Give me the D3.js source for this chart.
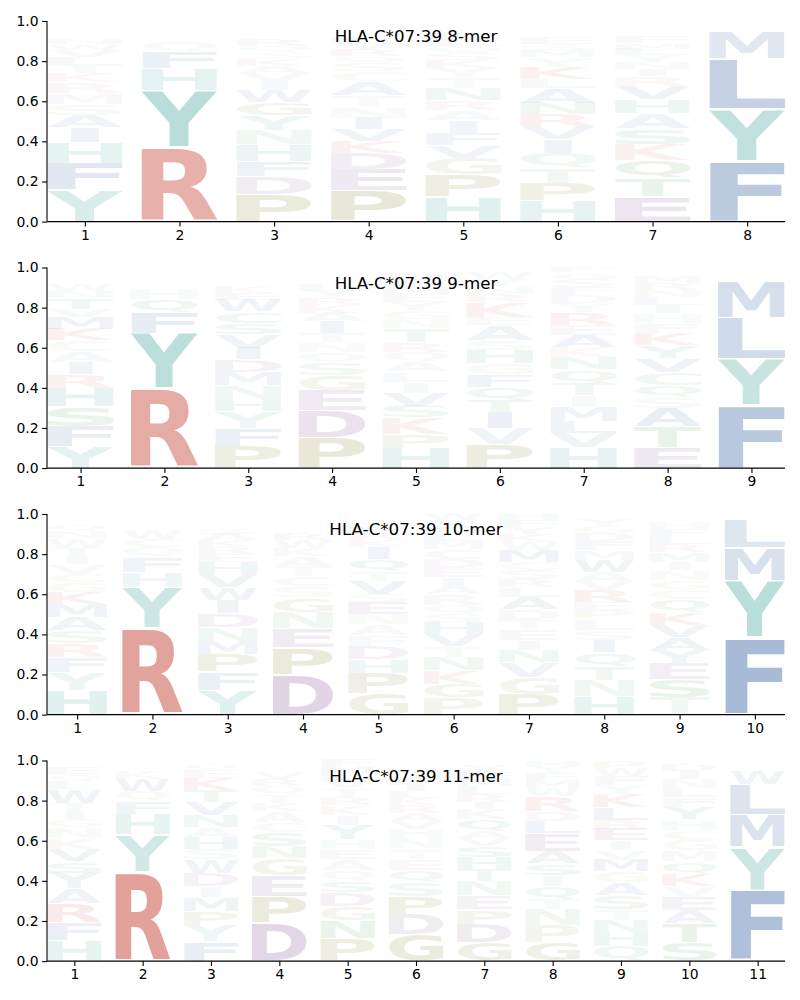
<!DOCTYPE html>
<html><head><meta charset="utf-8">
<script src="https://cdn.jsdelivr.net/npm/d3@7"></script>
<style>body{margin:0;background:#fff}</style>
</head><body>
<svg id="chart" width="800" height="1000"></svg>
<script>
// ---------- data ----------
const titles = ["HLA-C*07:39 8-mer", "HLA-C*07:39 9-mer", "HLA-C*07:39 10-mer", "HLA-C*07:39 11-mer"];
const yTicks = [0, 0.2, 0.4, 0.6, 0.8, 1.0];

// each column: [letter, probability] listed from bottom to top
const logo8mer = [
  [["Y",.158],["F",.135],["H",.105],["I",.075],["A",.06],["S",.055],["M",.055],["R",.055],["K",.05],["T",.04],["L",.04],["V",.035],["W",.03],["N",.03],["Q",.025],["E",.02],["D",.015],["G",.015],["P",.01]],
  [["R",.368],["Y",.287],["H",.108],["F",.083],["Q",.05],["C",.025],["K",.02],["M",.015],["S",.015],["N",.01],["W",.01],["L",.01]],
  [["P",.133],["D",.088],["F",.075],["H",.083],["N",.07],["Y",.075],["G",.063],["W",.06],["I",.045],["V",.04],["A",.035],["K",.035],["S",.03],["Q",.03],["R",.03],["E",.025],["T",.025],["L",.025],["C",.02]],
  [["P",.153],["E",.105],["D",.083],["K",.058],["V",.058],["I",.058],["N",.056],["T",.055],["A",.07],["C",.05],["S",.04],["Q",.035],["R",.03],["Y",.03],["L",.03],["F",.025],["M",.02],["H",.02],["W",.02]],
  [["H",.124],["P",.108],["G",.083],["V",.063],["F",.063],["I",.063],["A",.05],["R",.05],["N",.06],["T",.055],["Y",.045],["K",.04],["S",.035],["Q",.035],["L",.03],["E",.03],["D",.025],["M",.02],["W",.02]],
  [["H",.103],["P",.09],["T",.075],["Q",.075],["I",.066],["V",.066],["R",.058],["N",.058],["A",.075],["L",.045],["K",.06],["Y",.05],["M",.035],["S",.03],["E",.03],["D",.025],["G",.02],["F",.02],["W",.02]],
  [["E",.124],["T",.09],["Q",.09],["K",.08],["S",.08],["A",.075],["H",.07],["V",.066],["R",.05],["I",.035],["N",.035],["Y",.035],["L",.03],["M",.03],["F",.03],["G",.025],["D",.025],["W",.015],["C",.015]],
  [["F",.30],["Y",.257],["L",.254],["M",.133],["I",.02],["W",.015],["V",.01],["H",.01]]
];
const logo9mer = [
  [["Y",.108],["F",.10],["S",.096],["H",.093],["R",.07],["I",.058],["A",.053],["C",.055],["K",.058],["M",.058],["V",.04],["T",.058],["N",.03],["W",.03],["Q",.025],["L",.02],["E",.02],["D",.015],["G",.01]],
  [["R",.393],["Y",.274],["F",.103],["Q",.066],["H",.056],["K",.025],["M",.02],["W",.02],["N",.015],["S",.01],["L",.01]],
  [["P",.108],["F",.09],["Y",.083],["H",.061],["N",.07],["M",.066],["D",.06],["I",.058],["V",.066],["S",.058],["C",.058],["W",.058],["E",.035],["K",.03],["R",.025],["A",.025],["T",.02],["L",.015],["Q",.01]],
  [["P",.15],["D",.136],["E",.10],["G",.075],["S",.063],["Q",.05],["N",.05],["T",.046],["I",.058],["A",.045],["K",.04],["R",.035],["Y",.03],["L",.03],["F",.025],["M",.025],["H",.02],["W",.02]],
  [["H",.10],["P",.07],["K",.08],["S",.06],["V",.065],["I",.055],["L",.05],["A",.05],["Q",.05],["R",.045],["T",.07],["N",.045],["G",.045],["Y",.04],["E",.04],["M",.035],["F",.035],["D",.03],["W",.02],["C",.015]],
  [["P",.116],["V",.083],["I",.078],["T",.058],["Q",.066],["F",.063],["G",.055],["H",.066],["S",.05],["A",.075],["E",.04],["K",.075],["R",.04],["N",.035],["Y",.035],["W",.03],["D",.02],["C",.01]],
  [["H",.10],["V",.07],["L",.06],["M",.07],["I",.055],["T",.058],["Q",.066],["N",.06],["K",.05],["A",.058],["E",.05],["R",.06],["Y",.045],["D",.04],["F",.04],["S",.04],["G",.03],["P",.025]],
  [["E",.105],["T",.10],["A",.095],["S",.055],["Q",.058],["C",.066],["V",.07],["Y",.063],["K",.058],["F",.05],["H",.05],["I",.04],["L",.04],["N",.035],["R",.035],["M",.03],["D",.025],["W",.025]],
  [["F",.31],["Y",.227],["L",.207],["M",.182],["I",.02],["W",.02],["V",.015],["H",.01]]
];
const logo10mer = [
  [["H",.12],["Y",.088],["F",.075],["R",.07],["S",.063],["A",.066],["M",.066],["K",.06],["G",.05],["C",.04],["V",.05],["I",.04],["T",.04],["W",.05],["N",.035],["Q",.03],["L",.025],["E",.02],["D",.01]],
  [["R",.431],["Y",.204],["H",.075],["F",.073],["Q",.05],["C",.04],["W",.045],["K",.025],["M",.02],["N",.015],["S",.01],["L",.01]],
  [["Y",.12],["F",.09],["P",.088],["M",.066],["N",.066],["D",.07],["I",.066],["W",.06],["V",.066],["H",.058],["E",.04],["R",.035],["K",.035],["A",.03],["S",.03],["T",.025],["Q",.025],["L",.02]],
  [["D",.20],["P",.133],["E",.096],["N",.083],["G",.071],["S",.056],["C",.05],["T",.053],["A",.05],["K",.04],["W",.04],["R",.03],["M",.025],["Y",.025],["L",.02],["V",.015],["I",.015]],
  [["G",.105],["P",.10],["H",.066],["D",.066],["F",.055],["A",.055],["N",.05],["E",.058],["S",.04],["V",.066],["T",.05],["Q",.058],["I",.058],["K",.035],["R",.03],["L",.03],["M",.025],["Y",.025],["W",.02]],
  [["P",.083],["G",.07],["K",.066],["N",.066],["T",.053],["V",.063],["H",.06],["S",.04],["Q",.045],["R",.053],["A",.041],["I",.041],["E",.046],["D",.046],["C",.05],["M",.04],["L",.035],["F",.035],["Y",.035],["W",.03]],
  [["P",.10],["G",.083],["V",.075],["N",.063],["I",.05],["E",.055],["T",.045],["D",.053],["A",.058],["L",.05],["R",.041],["S",.046],["C",.041],["M",.058],["W",.04],["K",.04],["Y",.035],["F",.035],["H",.03]],
  [["H",.09],["N",.078],["T",.07],["Q",.07],["I",.06],["S",.05],["L",.056],["P",.046],["E",.038],["R",.058],["V",.045],["A",.045],["W",.06],["M",.05],["F",.045],["D",.04],["G",.035],["Y",.035],["K",.025]],
  [["T",.086],["S",.088],["E",.08],["Y",.066],["A",.063],["V",.063],["K",.063],["Q",.066],["C",.05],["G",.041],["N",.05],["I",.041],["M",.05],["R",.04],["L",.04],["F",.035],["H",.03],["D",.025],["P",.02]],
  [["F",.37],["Y",.274],["M",.161],["L",.141],["I",.01],["W",.01]]
];
const logo11mer = [
  [["H",.104],["F",.088],["R",.093],["A",.075],["Y",.078],["S",.058],["V",.06],["K",.053],["N",.055],["G",.041],["I",.041],["T",.041],["W",.066],["L",.04],["Q",.035],["E",.03],["D",.025],["P",.015]],
  [["R",.443],["Y",.187],["H",.103],["F",.063],["Q",.05],["W",.058],["K",.04],["M",.02],["N",.015],["S",.01],["L",.01]],
  [["F",.096],["Y",.08],["P",.071],["M",.07],["I",.055],["D",.066],["W",.066],["S",.055],["H",.058],["A",.05],["N",.058],["V",.066],["T",.058],["K",.06],["E",.04],["Q",.03],["G",.02]],
  [["D",.19],["P",.133],["E",.10],["G",.088],["N",.061],["S",.07],["C",.05],["A",.055],["K",.041],["T",.041],["Q",.04],["R",.035],["V",.03],["L",.025],["M",.02],["Y",.02]],
  [["P",.111],["N",.091],["G",.071],["D",.066],["S",.058],["Q",.053],["A",.055],["E",.05],["H",.05],["Y",.071],["I",.05],["K",.05],["R",.04],["T",.04],["V",.04],["L",.035],["M",.035],["F",.03]],
  [["G",.13],["D",.10],["P",.09],["S",.07],["Q",.06],["E",.055],["T",.05],["N",.05],["H",.045],["V",.04],["A",.04],["R",.04],["K",.035],["L",.035],["I",.03],["F",.03],["Y",.03],["M",.025],["W",.02],["C",.015]],
  [["G",.091],["D",.091],["P",.071],["E",.07],["N",.071],["T",.058],["H",.058],["S",.058],["V",.04],["A",.035],["Q",.058],["K",.05],["I",.033],["R",.04],["L",.04],["M",.035],["F",.035],["Y",.03],["W",.025]],
  [["G",.091],["P",.088],["N",.078],["T",.053],["Q",.063],["I",.055],["S",.058],["A",.063],["E",.09],["L",.058],["D",.05],["R",.075],["W",.04],["M",.04],["F",.035],["Y",.035],["H",.03]],
  [["Q",.075],["H",.071],["N",.058],["T",.055],["S",.07],["A",.063],["G",.055],["M",.058],["V",.05],["I",.046],["E",.058],["R",.045],["L",.063],["K",.066],["Y",.045],["F",.045],["W",.04],["P",.037]],
  [["S",.091],["T",.095],["A",.066],["E",.066],["V",.055],["K",.061],["Q",.061],["M",.055],["G",.053],["C",.05],["H",.05],["Y",.06],["F",.05],["L",.045],["N",.045],["I",.04],["D",.03],["W",.025]],
  [["F",.337],["Y",.202],["M",.154],["L",.144],["W",.066],["I",.02],["V",.015],["H",.01]]
];

// colour groups
const redLetters = ["R","K"];
const purpleLetters = ["D","E"];
const oliveLetters = ["P","G"];
const tealLetters = ["Y","H"];
const greenLetters = ["N","Q","S","T","C"];
const blueLetters = ["F","L","M","I","V","A","W"];
const groupColors = {red:"#bd2a1c", purple:"#6b2d7e", olive:"#6e6400", teal:"#0b8a7c", green:"#1f8a30", blue:"#1e5096"};

// ---------- drawing ----------
const colorOf = ch => redLetters.includes(ch) ? groupColors.red
  : purpleLetters.includes(ch) ? groupColors.purple
  : oliveLetters.includes(ch) ? groupColors.olive
  : tealLetters.includes(ch) ? groupColors.teal
  : greenLetters.includes(ch) ? groupColors.green
  : groupColors.blue;

const FONT = "DejaVu Sans";
const cv = document.createElement("canvas").getContext("2d");
cv.font = `bold 100px '${FONT}'`;
const metricsCache = {};
function metrics(ch) {
  if (!metricsCache[ch]) {
    const m = cv.measureText(ch);
    metricsCache[ch] = {left: m.actualBoundingBoxLeft, right: m.actualBoundingBoxRight,
      ascent: m.actualBoundingBoxAscent, descent: m.actualBoundingBoxDescent,
      w: m.actualBoundingBoxLeft + m.actualBoundingBoxRight,
      h: m.actualBoundingBoxAscent + m.actualBoundingBoxDescent};
  }
  return metricsCache[ch];
}

const svg = d3.select("#chart");
const logos = [logo8mer, logo9mer, logo10mer, logo11mer];
const panelTops = [21, 267.5, 514, 760.5];
const panelH = 200.6;
const left = 47, right = 785;
const glyphWidth = 0.8, vpad = 0.05;

logos.forEach((logo, pi) => {
  const n = logo.length;
  const top = panelTops[pi];
  const x = d3.scaleLinear().domain([0.6, n + 0.4]).range([left, right]);
  const y = d3.scaleLinear().domain([0, 1]).range([top + panelH, top]);
  const g = svg.append("g");

  // letters
  const gl = g.append("g");
  logo.forEach((col, ci) => {
    const pos = ci + 1;
    const total = d3.sum(col, d => d[1]);
    let base = 0;
    col.forEach(([ch, v]) => {
      const h = v / total;
      const m = metrics(ch), mE = metrics("E");
      const x0 = x(pos - glyphWidth / 2), x1 = x(pos + glyphWidth / 2);
      const W = x1 - x0;
      const sx = Math.min(W / m.w, W / mE.w);
      const gw = m.w * sx;
      const yTop = y(base + h - h * vpad / 2);
      const yBot = y(base + h * vpad / 2);
      const H = yBot - yTop;
      const sy = H / m.h;
      const gx = (x0 + x1) / 2 - gw / 2;
      gl.append("text")
        .attr("transform", `translate(${gx + m.left * sx},${yTop + m.ascent * sy}) scale(${sx},${sy})`)
        .attr("font-family", FONT).attr("font-weight", "bold").attr("font-size", 100)
        .attr("fill", colorOf(ch)).attr("fill-opacity", Math.min(1, h))
        .text(ch);
      base += h;
    });
  });

  // axes
  const ya = d3.axisLeft(y).tickValues(yTicks).tickFormat(d3.format(".1f")).tickSize(4.9).tickPadding(3.5);
  const xa = d3.axisBottom(x).tickValues(d3.range(1, n + 1)).tickFormat(d3.format("d")).tickSize(4.9).tickPadding(3.5);
  const gy = g.append("g").attr("transform", `translate(${left},0)`).call(ya);
  const gx = g.append("g").attr("transform", `translate(0,${top + panelH})`).call(xa);
  [gy, gx].forEach(a => {
    a.selectAll("path").attr("stroke", "#000").attr("stroke-width", 1.1);
    a.selectAll("line").attr("stroke", "#000").attr("stroke-width", 1.1);
    a.selectAll("text").attr("font-family", FONT).attr("font-size", 13.9).attr("fill", "#000");
  });
  gy.select(".domain").attr("d", `M0,${top + panelH}V${top}`);
  gx.select(".domain").attr("d", `M${left},0H${right}`);

  // title
  g.append("text").attr("x", (left + right) / 2).attr("y", top + 21)
    .attr("text-anchor", "middle").attr("font-family", FONT).attr("font-size", 16.7)
    .attr("fill", "#000").text(titles[pi]);
});
</script>
</body></html>
